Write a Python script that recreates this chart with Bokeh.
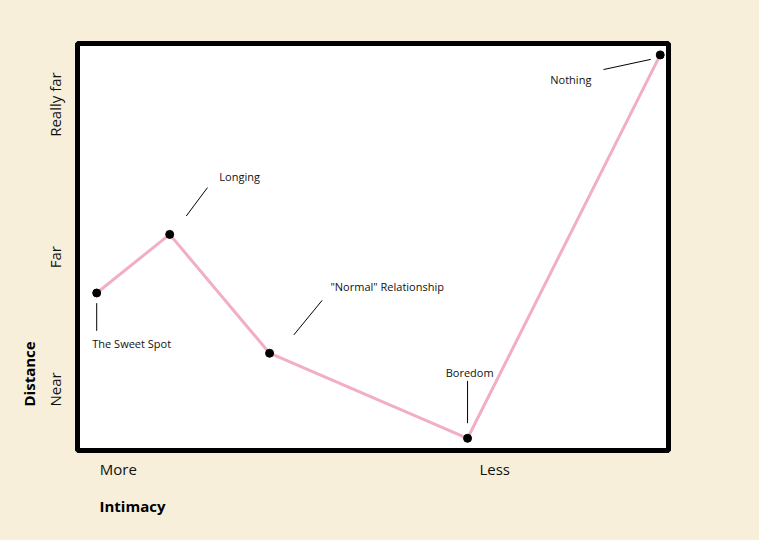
from bokeh.plotting import figure
from bokeh.models import Range1d, FixedTicker, Title, ColumnDataSource
from bokeh.core.properties import value
from bokeh.embed import file_html
from bokeh.resources import INLINE

# ---- data (frame spans 0..100 on both axes) ----
stage_names = ["The Sweet Spot", "Longing", '"Normal" Relationship', "Boredom", "Nothing"]
intimacy = [3.25, 15.6, 32.5, 66.0, 98.6]
distance = [38.7, 53.1, 23.9, 3.0, 97.2]

# callout leader lines (start -> end)
lead_x0 = [3.25, 18.4, 36.6, 66.0, 89.0]
lead_y0 = [36.2, 57.6, 28.4, 6.7, 93.6]
lead_x1 = [3.25, 22.0, 41.4, 66.0, 97.0]
lead_y1 = [29.4, 64.6, 36.9, 17.1, 96.1]

# callout label anchors (left edge, vertical middle)
label_x = [2.5, 24.0, 42.8, 62.3, 80.0]
label_y = [26.3, 67.2, 40.2, 19.1, 91.2]

x_ticks = [6.9, 70.6]
x_tick_labels = ["More", "Less"]
y_ticks = [15.0, 47.5, 85.0]
y_tick_labels = ["Near", "Far", "Really far"]

BG = "#F7EFDA"
PINK = "#F2AEC4"
FONT = "Open Sans"

p = figure(width=759, height=540, output_backend="svg", toolbar_location=None,
           x_range=Range1d(0, 100), y_range=Range1d(0, 100),
           min_border_left=77, min_border_right=91, min_border_top=43, min_border_bottom=90)
p.background_fill_color = "white"
p.border_fill_color = BG
p.outline_line_color = "black"
p.outline_line_width = 5
p.grid.visible = False

for ax, ticks, labels in ((p.xaxis[0], x_ticks, x_tick_labels), (p.yaxis[0], y_ticks, y_tick_labels)):
    ax.ticker = FixedTicker(ticks=ticks)
    ax.major_label_overrides = {t: l for t, l in zip(ticks, labels)}
    ax.axis_line_color = None
    ax.major_tick_line_color = None
    ax.minor_tick_line_color = None
    ax.major_label_text_font = FONT
    ax.major_label_text_font_size = "15px"
    ax.major_label_text_color = "#111111"
p.xaxis[0].major_label_standoff = 2
p.yaxis[0].major_label_standoff = 6
p.yaxis[0].major_label_orientation = "vertical"

p.add_layout(Title(text="Distance", align="left", offset=44, text_font=FONT,
                   text_font_size="15px", text_font_style="bold", text_color="black",
                   standoff=7), "left")
p.add_layout(Title(text="Intimacy", align="left", offset=22, text_font=FONT,
                   text_font_size="15px", text_font_style="bold", text_color="black",
                   standoff=24), "below")

p.line(intimacy, distance, line_color=PINK, line_width=3)
p.scatter(intimacy, distance, size=8, fill_color="black", line_color="black")

p.segment(x0=lead_x0, y0=lead_y0, x1=lead_x1, y1=lead_y1, line_color="black", line_width=1)

src = ColumnDataSource(dict(x=label_x, y=label_y, t=stage_names))
p.text(x="x", y="y", text="t", source=src, text_font=value(FONT), text_font_size="11px",
       text_align="left", text_baseline="middle", text_color="#111111")

html = file_html(p, INLINE)
html = html.replace("<head>", "<head><style>html,body{background:%s;}</style>" % BG, 1)
open("out.html", "w").write(html)
